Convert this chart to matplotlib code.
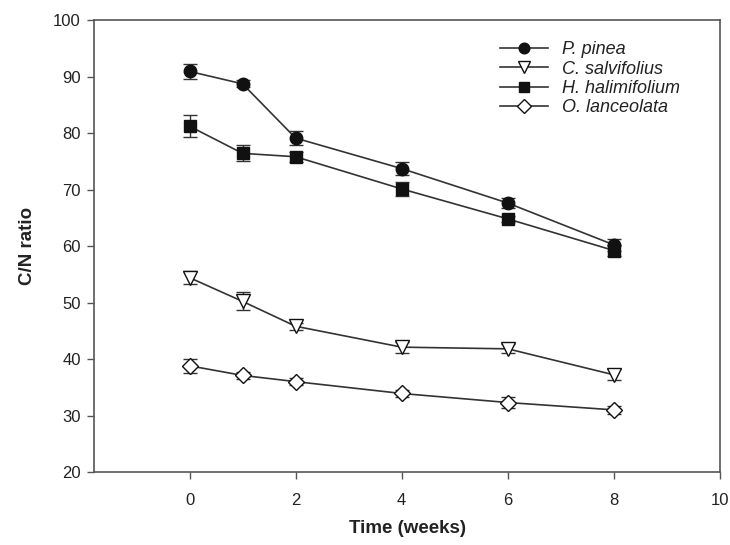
import matplotlib
matplotlib.use("Agg")
import matplotlib.pyplot as plt
import numpy as np

plt.rcParams["font.family"] = ["Liberation Sans", "DejaVu Sans"]

weeks = [0, 1, 2, 4, 6, 8]

pinea = [90.9, 88.7, 79.1, 73.7, 67.6, 60.2]
pinea_err = [1.3, 0.6, 1.3, 1.1, 0.9, 1.0]

salvifolius = [54.4, 50.2, 45.8, 42.1, 41.8, 37.2]
salvifolius_err = [1.2, 1.6, 0.6, 1.0, 0.8, 1.0]

halimifolium = [81.2, 76.4, 75.8, 70.1, 64.8, 59.2]
halimifolium_err = [1.9, 1.4, 0.9, 1.2, 0.6, 0.9]

lanceolata = [38.8, 37.1, 36.0, 33.9, 32.3, 31.0]
lanceolata_err = [1.2, 0.6, 0.6, 0.6, 0.9, 0.7]

series = [
    ("P. pinea", pinea, pinea_err, "o", "#111111"),
    ("C. salvifolius", salvifolius, salvifolius_err, "v", "white"),
    ("H. halimifolium", halimifolium, halimifolium_err, "s", "#111111"),
    ("O. lanceolata", lanceolata, lanceolata_err, "D", "white"),
]
msizes = {"o": 9, "v": 9.5, "s": 8, "D": 8.5}

fig = plt.figure(figsize=(7.3, 5.45), dpi=100)
ax = fig.add_axes([0.1288, 0.1339, 0.8575, 0.8294])

for name, y, err, m, fc in series:
    ax.errorbar(weeks, y, yerr=err, fmt="-", color="#333333", lw=1.2,
                marker=m, markersize=msizes[m], markerfacecolor=fc,
                markeredgecolor="#111111", markeredgewidth=1.0,
                ecolor="#333333", elinewidth=1.0, capsize=5, capthick=1.0,
                label=name)

ax.set_xlim(-1.8, 10)
ax.set_ylim(20, 100)
ax.set_xticks([0, 2, 4, 6, 8, 10])
ax.set_yticks(np.arange(20, 101, 10))

for s in ax.spines.values():
    s.set_color("#555555")
    s.set_linewidth(1.2)
ax.tick_params(direction="out", length=5, width=1.0, color="#555555",
               labelsize=12, labelcolor="#222222")
ax.tick_params(axis="x", pad=10)
ax.tick_params(axis="y", pad=4.5)

ax.set_xlabel("Time (weeks)", fontsize=13.5, fontweight="bold",
              color="#222222", labelpad=9)
ax.set_ylabel("C/N ratio", fontsize=13.5, fontweight="bold",
              color="#222222", labelpad=12)

handles, labels = ax.get_legend_handles_labels()
handles = [h[0] for h in handles]
leg = ax.legend(handles, labels, loc="upper left", bbox_to_anchor=(0.6486, 0.953),
                frameon=False, handlelength=2.67, handletextpad=0.78,
                labelspacing=0.13, prop={"style": "italic", "size": 13},
                borderaxespad=0, borderpad=0, markerscale=0.85)
for t in leg.get_texts():
    t.set_color("#222222")

fig.savefig("out.png", dpi=100)
